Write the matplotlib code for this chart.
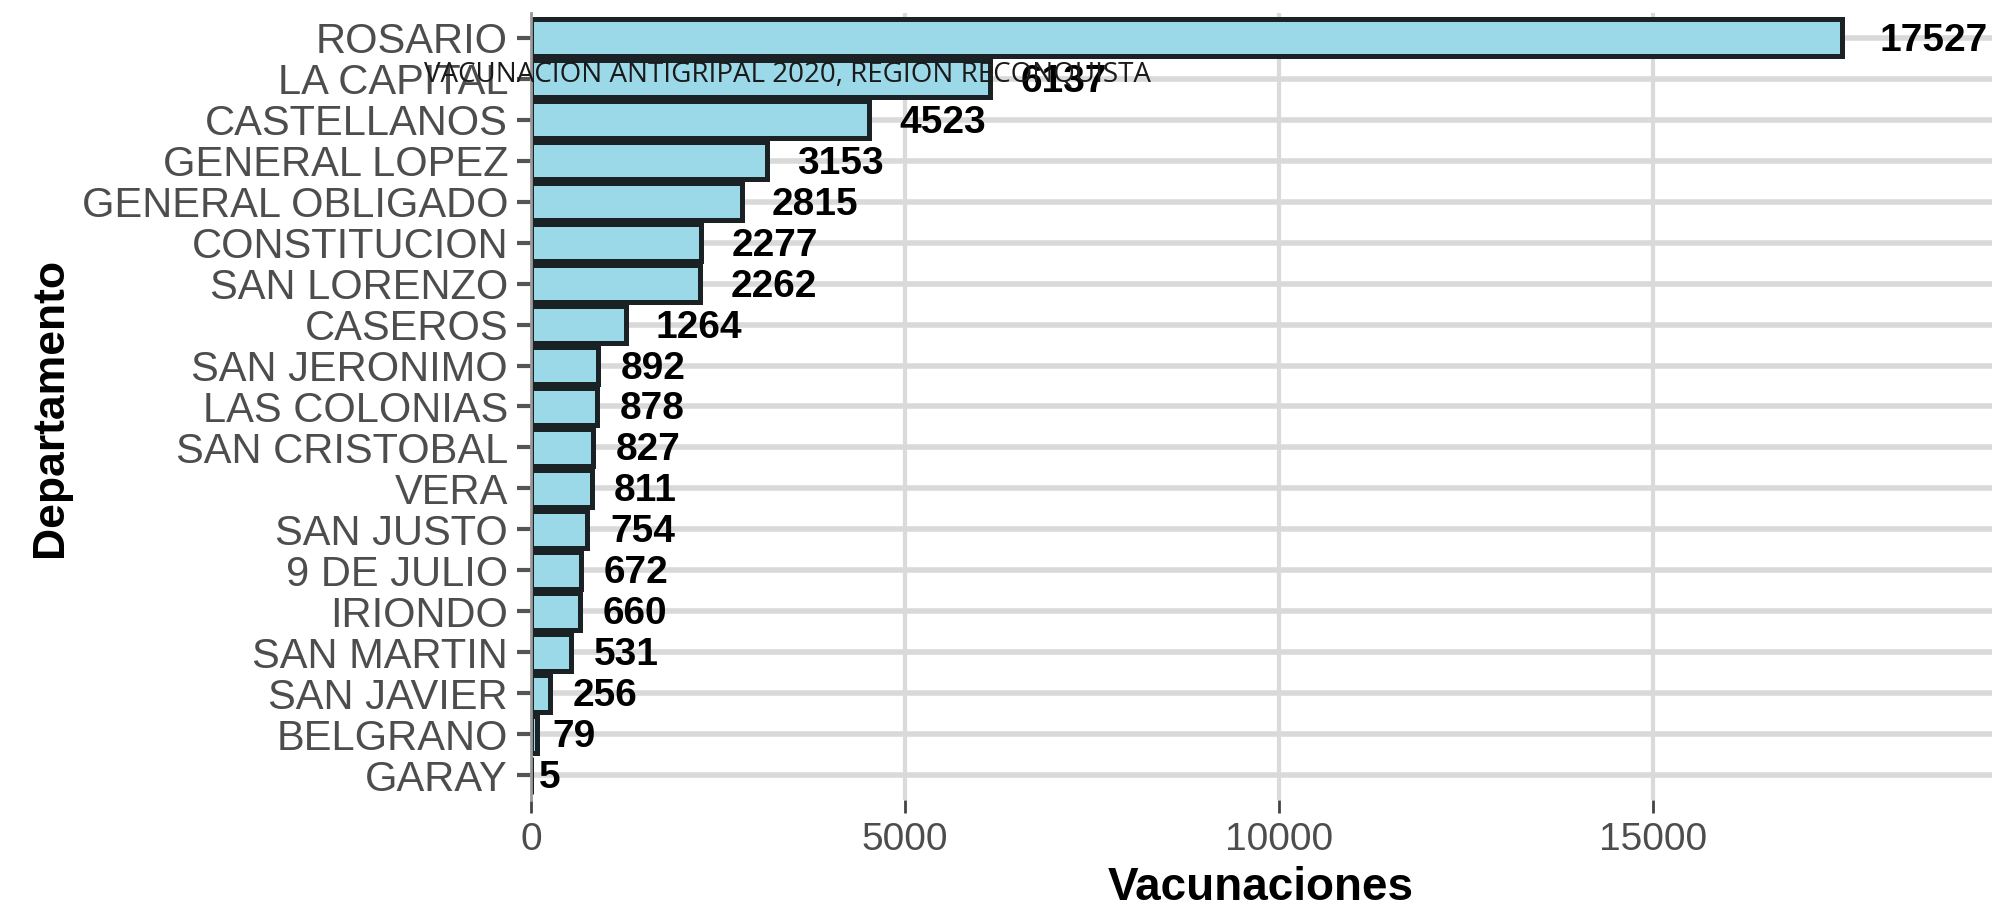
import numpy as np
import matplotlib
matplotlib.use('Agg')
import matplotlib.pyplot as plt
import matplotlib.transforms as mtransforms

# data
departamentos = ['ROSARIO', 'LA CAPITAL', 'CASTELLANOS', 'GENERAL LOPEZ', 'GENERAL OBLIGADO',
                 'CONSTITUCION', 'SAN LORENZO', 'CASEROS', 'SAN JERONIMO', 'LAS COLONIAS',
                 'SAN CRISTOBAL', 'VERA', 'SAN JUSTO', '9 DE JULIO', 'IRIONDO',
                 'SAN MARTIN', 'SAN JAVIER', 'BELGRANO', 'GARAY']
vacunaciones = [17527, 6137, 4523, 3153, 2815, 2277, 2262, 1264, 892, 878,
                827, 811, 754, 672, 660, 531, 256, 79, 5]
xticks = [0, 5000, 10000, 15000]
titulo = 'VACUNACION ANTIGRIPAL 2020, REGION RECONQUISTA'

W, H = 1992, 911
dpi = 100
fig = plt.figure(figsize=(W/dpi, H/dpi), dpi=dpi)
ax = fig.add_axes([531/W, (H-800)/H, (W-531)/W, (800-13)/H])

ypos = np.arange(len(departamentos))
gray_txt = '#4d4d4d'

# grid
for y in ypos:
    ax.axhline(y, color='#d9d9d9', linewidth=4, zorder=0)
for x in xticks[1:]:
    ax.axvline(x, color='#dadada', linewidth=3, zorder=0)

ax.barh(ypos, vacunaciones, height=0.9, color='#9bd8e8', edgecolor='#1b2225',
        linewidth=3.6, zorder=2)

ax.set_xlim(0, 19532)
ax.set_yticks(ypos)
ax.set_yticklabels(departamentos, fontsize=30, color=gray_txt, family='Liberation Sans')
ax.set_xticks(xticks)
ax.set_xticklabels([str(x) for x in xticks], fontsize=28, color=gray_txt, family='Liberation Sans')
ax.tick_params(axis='y', length=10, width=3, color='#555555', pad=6.5)
ax.tick_params(axis='x', length=9, width=2, color='#444444', pad=7)

for s in ['top', 'right', 'bottom']:
    ax.spines[s].set_visible(False)
ax.spines['left'].set_color('#999999')
ax.spines['left'].set_linewidth(2)
ax.spines['left'].set_zorder(3)

ax.set_ylim(len(departamentos)-0.4, -0.6)

# value labels, shifted right by ~0.35 of their width
labels = []
for y, v in zip(ypos, vacunaciones):
    t = ax.text(v, y, str(v), fontsize=28, fontweight='bold', color='black',
                family='Liberation Sans', ha='left', va='center', zorder=4, clip_on=False)
    labels.append(t)
fig.canvas.draw()
rend = fig.canvas.get_renderer()
for t in labels:
    w = t.get_window_extent(rend).width
    off = mtransforms.ScaledTranslation(0.35*w/dpi, -3/dpi, fig.dpi_scale_trans)
    t.set_transform(ax.transData + off)

fig.text(50/W, 1-407/H, 'Departamento', rotation=90, fontsize=32, fontweight='bold',
         family='Liberation Sans', ha='center', va='center')
fig.text(1261/W, 1-888/H, 'Vacunaciones', fontsize=33, fontweight='bold',
         family='Liberation Sans', ha='center', va='center')

fig.text(787/W, 1-75/H, titulo, fontsize=20, family='Open Sans', color='#1a1a1a',
         ha='center', va='center', zorder=10)

fig.savefig('out.png', dpi=dpi)
